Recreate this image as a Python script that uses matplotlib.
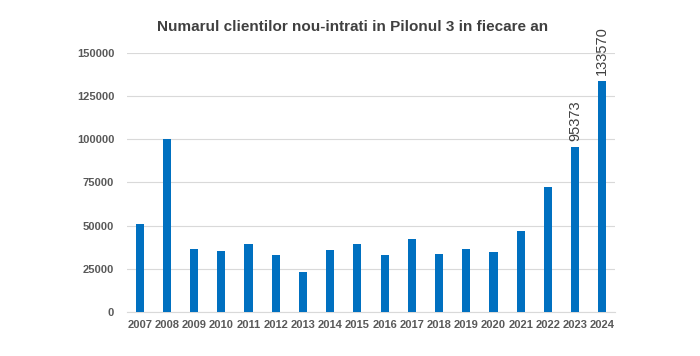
import numpy as np
import matplotlib
matplotlib.use("Agg")
import matplotlib.pyplot as plt

############################################################
#  data
############################################################
years = ["2007", "2008", "2009", "2010", "2011", "2012", "2013", "2014", "2015",
         "2016", "2017", "2018", "2019", "2020", "2021", "2022", "2023", "2024"]
clients = [50800, 100000, 36400, 35100, 39500, 32700, 23000, 36000, 39500,
           32700, 42200, 33500, 36400, 34700, 47000, 72600, 95373, 133570]
labelled_years = ["2023", "2024"]
y_ticks = [0, 25000, 50000, 75000, 100000, 125000, 150000]

plt.rcParams['font.family'] = ['Liberation Sans', 'DejaVu Sans']

fig = plt.figure(figsize=(7, 3.56), dpi=100)
ax = fig.add_axes([0.181, 0.124, 0.698, 0.727])

x = np.arange(len(years))
ax.bar(x, clients, width=0.3, color="#0070C0", zorder=3)

for i, (yr, v) in enumerate(zip(years, clients)):
    if yr in labelled_years:
        ax.text(i, v + 3800, str(v), rotation=90, ha="center", va="bottom",
                fontsize=10.5, color="#404040")

ax.set_xlim(-0.48, len(years) - 0.52)
ax.set_ylim(0, 150000)
ax.set_yticks(y_ticks)
ax.set_yticklabels([str(t) for t in y_ticks])
ax.set_xticks(x)
ax.set_xticklabels(years)
ax.tick_params(axis="both", length=0, labelsize=8, labelcolor="#595959")
ax.tick_params(axis="y", pad=9)
ax.tick_params(axis="x", pad=6)
for lbl in ax.get_xticklabels() + ax.get_yticklabels():
    lbl.set_fontweight("bold")

ax.grid(axis="y", color="#d9d9d9", linewidth=0.8, zorder=0)
for s in ["top", "right", "left"]:
    ax.spines[s].set_visible(False)
ax.spines["bottom"].set_color("#d9d9d9")

fig.text(0.503, 0.925, "Numarul clientilor nou-intrati in Pilonul 3 in fiecare an",
         ha="center", va="center", fontsize=11, fontweight="bold", color="#404040")

fig.savefig("out.png", dpi=100)
